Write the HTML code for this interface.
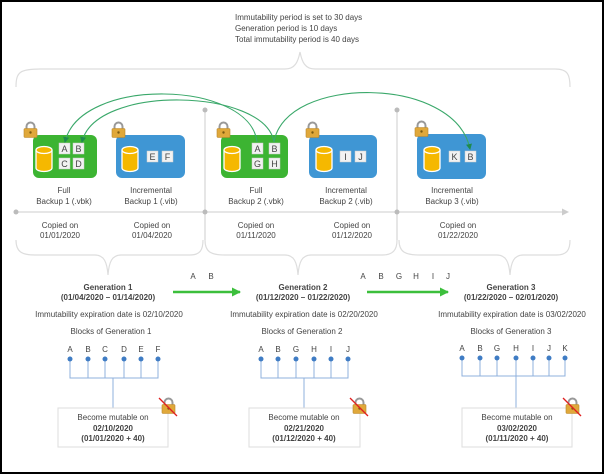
<!DOCTYPE html>
<html><head><meta charset="utf-8"><style>
html,body{margin:0;padding:0;background:#fff}
svg{display:block}
text{font-family:"Liberation Sans",sans-serif;fill:#444}
</style></head><body>
<svg width="604" height="474" viewBox="0 0 604 474" xmlns="http://www.w3.org/2000/svg">
<defs>
<g id="lock">
<path d="M2.5 7 V4.5 a4 4 0 0 1 8 0 V7" fill="none" stroke="#999" stroke-width="2"/>
<rect x="0" y="6.5" width="13" height="9" rx="1" fill="#e0a83a" stroke="#b8862a" stroke-width="0.6"/>
<circle cx="6.5" cy="10.5" r="1.2" fill="#7a5a10"/>
</g>
<g id="cyl">
<path d="M0 4 V22 a8 3.5 0 0 0 16 0 V4" fill="#f5b800" stroke="#fff" stroke-width="1.3"/>
<ellipse cx="8" cy="4" rx="8" ry="3.5" fill="#f5b800" stroke="#fff" stroke-width="1.3"/>
</g>
<marker id="ah" markerWidth="6" markerHeight="6" refX="5" refY="3" orient="auto" markerUnits="userSpaceOnUse">
<path d="M0 0 L6 3 L0 6 Z" fill="#1f8a4c"/></marker>
<marker id="ga" markerWidth="9" markerHeight="9" refX="8" refY="4.5" orient="auto" markerUnits="userSpaceOnUse">
<path d="M0 0 L9 4.5 L0 9 Z" fill="#3cbf3c"/></marker>
<marker id="ta" markerWidth="7" markerHeight="7" refX="6" refY="3.5" orient="auto" markerUnits="userSpaceOnUse">
<path d="M0 0 L7 3.5 L0 7 Z" fill="#ccc"/></marker>
</defs>
<rect x="1" y="1" width="602" height="472" fill="#fff" stroke="#000" stroke-width="2"/>

<g font-size="8" text-anchor="start">
<text x="235" y="20">Immutability period is set to 30 days</text>
<text x="235" y="31">Generation period is 10 days</text>
<text x="235" y="42">Total immutability period is 40 days</text>
</g>
<path d="M16 87 C16 72 20 69 40 69 L285 69 C295 69 298 62 300 52 C302 62 305 69 315 69 L555 69 C568 69 570 75 570 87" fill="none" stroke="#ddd" stroke-width="1.2"/>

<g stroke="#ccc" stroke-width="1">
<line x1="205" y1="110" x2="205" y2="240"/>
<line x1="397" y1="110" x2="397" y2="240"/>
<line x1="16" y1="212" x2="568" y2="212" marker-end="url(#ta)"/>
</g>
<g fill="#bbb"><circle cx="205" cy="110" r="2.5"/><circle cx="397" cy="110" r="2.5"/>
<circle cx="16" cy="212" r="2.5"/><circle cx="205" cy="212" r="2.5"/><circle cx="397" cy="212" r="2.5"/></g>

<rect x="33" y="135" width="64" height="43" rx="6" fill="#3cb432"/>
<rect x="116" y="135" width="69" height="43" rx="6" fill="#3f96d4"/>
<rect x="221" y="135" width="67" height="43" rx="6" fill="#3cb432"/>
<rect x="309" y="135" width="68" height="43" rx="6" fill="#3f96d4"/>
<rect x="417" y="134" width="69" height="45" rx="6" fill="#3f96d4"/>
<use href="#cyl" x="36" y="146"/><use href="#cyl" x="122" y="146"/><use href="#cyl" x="224" y="146"/><use href="#cyl" x="316" y="146"/><use href="#cyl" x="424" y="146"/>
<use href="#lock" x="24" y="122"/><use href="#lock" x="112" y="122"/><use href="#lock" x="217" y="122"/><use href="#lock" x="306" y="122"/><use href="#lock" x="415" y="121"/>
<g font-size="9" text-anchor="middle">
<g fill="#f2f2f2" stroke="#ccc" stroke-width="0.5">
<rect x="59" y="143" width="11" height="11"/><rect x="73" y="143" width="11" height="11"/>
<rect x="59" y="158" width="11" height="11"/><rect x="73" y="158" width="11" height="11"/>
<rect x="147" y="151" width="11" height="11"/><rect x="162" y="151" width="11" height="11"/>
<rect x="252" y="143" width="11" height="11"/><rect x="269" y="143" width="11" height="11"/>
<rect x="252" y="158" width="11" height="11"/><rect x="269" y="158" width="11" height="11"/>
<rect x="340" y="151" width="11" height="11"/><rect x="355" y="151" width="11" height="11"/>
<rect x="449" y="151" width="11" height="11"/><rect x="465" y="151" width="11" height="11"/>
</g>
<g style="font-family:'Liberation Serif',serif" fill="#333">
<text x="64.5" y="152">A</text><text x="78.5" y="152">B</text><text x="64.5" y="167">C</text><text x="78.5" y="167">D</text>
<text x="152.5" y="160">E</text><text x="167.5" y="160">F</text>
<text x="257.5" y="152">A</text><text x="274.5" y="152">B</text><text x="257.5" y="167">G</text><text x="274.5" y="167">H</text>
<text x="345.5" y="160">I</text><text x="360.5" y="160">J</text>
<text x="454.5" y="160">K</text><text x="470.5" y="160">B</text>
</g></g>
<g fill="none" stroke="#3aa86a" stroke-width="1.1">
<path d="M257 142 C250 80 80 76 65 142" marker-end="url(#ah)"/>
<path d="M274 142 C265 88 95 84 82 142" marker-end="url(#ah)"/>
<path d="M274 142 C285 75 455 75 470 149" marker-end="url(#ah)"/>
</g>

<g font-size="8" text-anchor="middle">
<text x="64" y="193">Full</text><text x="64" y="204">Backup 1 (.vbk)</text>
<text x="151" y="193">Incremental</text><text x="151" y="204">Backup 1 (.vib)</text>
<text x="256" y="193">Full</text><text x="256" y="204">Backup 2 (.vbk)</text>
<text x="346" y="193">Incremental</text><text x="346" y="204">Backup 2 (.vib)</text>
<text x="452" y="193">Incremental</text><text x="452" y="204">Backup 3 (.vib)</text>
<text x="60" y="228">Copied on</text><text x="60" y="238">01/01/2020</text>
<text x="152" y="228">Copied on</text><text x="152" y="238">01/04/2020</text>
<text x="256" y="228">Copied on</text><text x="256" y="238">01/11/2020</text>
<text x="352" y="228">Copied on</text><text x="352" y="238">01/12/2020</text>
<text x="458" y="228">Copied on</text><text x="458" y="238">01/22/2020</text>
</g>

<g fill="none" stroke="#ddd" stroke-width="1.2">
<path d="M16 240 C16 252 22 255 35 255 L95 255 C104 255 107 262 108 275 C109 262 112 255 121 255 L190 255 C200 255 203 250 203 240"/>
<path d="M205 240 C205 252 211 255 225 255 L285 255 C294 255 297 262 298 275 C299 262 302 255 311 255 L382 255 C393 255 397 250 397 240"/>
<path d="M399 240 C399 252 405 255 420 255 L497 255 C506 255 509 262 510 275 C511 262 514 255 523 255 L556 255 C567 255 570 250 570 240"/>
</g>

<g font-size="8" text-anchor="middle">
<text x="108" y="290" font-weight="bold" fill="#222">Generation 1</text>
<text x="108" y="300" font-weight="bold" fill="#222">(01/04/2020 – 01/14/2020)</text>
<text x="303" y="290" font-weight="bold" fill="#222">Generation 2</text>
<text x="303" y="300" font-weight="bold" fill="#222">(01/12/2020 – 01/22/2020)</text>
<text x="511" y="290" font-weight="bold" fill="#222">Generation 3</text>
<text x="511" y="300" font-weight="bold" fill="#222">(01/22/2020 – 02/01/2020)</text>
<text x="109" y="317">Immutability expiration date is 02/10/2020</text>
<text x="304" y="317">Immutability expiration date is 02/20/2020</text>
<text x="512" y="317">Immutability expiration date is 03/02/2020</text>
<text x="111" y="334">Blocks of Generation 1</text>
<text x="302" y="334">Blocks of Generation 2</text>
<text x="511" y="334">Blocks of Generation 3</text>
<text x="193" y="279">A</text><text x="211" y="279">B</text>
<text x="363" y="279">A</text><text x="381" y="279">B</text><text x="399" y="279">G</text><text x="416" y="279">H</text><text x="433" y="279">I</text><text x="448" y="279">J</text>
</g>
<g stroke="#3cbf3c" stroke-width="2.5">
<line x1="173" y1="292" x2="240" y2="292" marker-end="url(#ga)"/>
<line x1="367" y1="292" x2="448" y2="292" marker-end="url(#ga)"/>
</g>

<g font-size="8" text-anchor="middle">
<text x="70" y="352">A</text><text x="88" y="352">B</text><text x="105" y="352">C</text><text x="124" y="352">D</text><text x="141" y="352">E</text><text x="158" y="352">F</text>
<text x="261" y="352">A</text><text x="278" y="352">B</text><text x="296" y="352">G</text><text x="314" y="352">H</text><text x="331" y="352">I</text><text x="348" y="352">J</text>
<text x="462" y="351">A</text><text x="480" y="351">B</text><text x="497" y="351">G</text><text x="516" y="351">H</text><text x="533" y="351">I</text><text x="549" y="351">J</text><text x="565" y="351">K</text>
</g>
<g stroke="#8fb0dc" stroke-width="1" fill="none">
<path d="M70 359 V378 H158 V359 M88 359 V378 M105 359 V378 M124 359 V378 M141 359 V378 M113 378 V408"/>
<path d="M261 359 V378 H348 V359 M278 359 V378 M296 359 V378 M314 359 V378 M331 359 V378 M304 378 V408"/>
<path d="M462 358 V376 H565 V358 M480 358 V376 M497 358 V376 M516 358 V376 M533 358 V376 M549 358 V376 M516 376 V408"/>
</g>
<g fill="#3f7cc4">
<circle cx="70" cy="359" r="2.5"/><circle cx="88" cy="359" r="2.5"/><circle cx="105" cy="359" r="2.5"/><circle cx="124" cy="359" r="2.5"/><circle cx="141" cy="359" r="2.5"/><circle cx="158" cy="359" r="2.5"/>
<circle cx="261" cy="359" r="2.5"/><circle cx="278" cy="359" r="2.5"/><circle cx="296" cy="359" r="2.5"/><circle cx="314" cy="359" r="2.5"/><circle cx="331" cy="359" r="2.5"/><circle cx="348" cy="359" r="2.5"/>
<circle cx="462" cy="358" r="2.5"/><circle cx="480" cy="358" r="2.5"/><circle cx="497" cy="358" r="2.5"/><circle cx="516" cy="358" r="2.5"/><circle cx="533" cy="358" r="2.5"/><circle cx="549" cy="358" r="2.5"/><circle cx="565" cy="358" r="2.5"/>
</g>
<g fill="#fff" stroke="#ddd" stroke-width="1">
<rect x="58" y="408" width="110" height="39"/>
<rect x="249" y="408" width="111" height="39"/>
<rect x="462" y="408" width="110" height="39"/>
</g>
<g font-size="8" text-anchor="middle">
<text x="113" y="420">Become mutable on</text><text x="113" y="431" font-weight="bold" fill="#222">02/10/2020</text><text x="113" y="441" font-weight="bold" fill="#333">(01/01/2020 + 40)</text>
<text x="304" y="420">Become mutable on</text><text x="304" y="431" font-weight="bold" fill="#222">02/21/2020</text><text x="304" y="441" font-weight="bold" fill="#333">(01/12/2020 + 40)</text>
<text x="517" y="420">Become mutable on</text><text x="517" y="431" font-weight="bold" fill="#222">03/02/2020</text><text x="517" y="441" font-weight="bold" fill="#333">(01/11/2020 + 40)</text>
</g>
<g>
<use href="#lock" x="162" y="398"/><line x1="159" y1="398" x2="177" y2="416" stroke="#e02020" stroke-width="1.3"/>
<use href="#lock" x="353" y="398"/><line x1="350" y1="398" x2="368" y2="416" stroke="#e02020" stroke-width="1.3"/>
<use href="#lock" x="566" y="398"/><line x1="563" y1="398" x2="581" y2="416" stroke="#e02020" stroke-width="1.3"/>
</g>
</svg>
</body></html>
